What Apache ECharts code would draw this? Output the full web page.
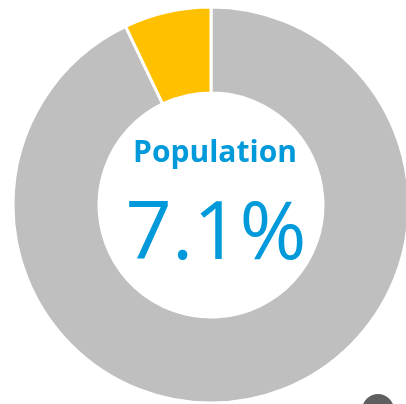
<!DOCTYPE html>
<html>
<head>
<meta charset="utf-8">
<script src="https://cdn.jsdelivr.net/npm/echarts@6/dist/echarts.min.js"></script>
<style>
  html, body { margin: 0; padding: 0; background: #fff; }
  #main { width: 406px; height: 404px; }
</style>
</head>
<body>
<div id="main"></div>
<script>
// 数据
var names = ['Other', 'Population'];
var values = [92.9, 7.1];
var colors = ['#BFBFBF', '#FFC000'];
var labelTitle = 'Population';
var labelValue = '7.1%';

var chart = echarts.init(document.getElementById('main'));
var option = {
    animation: false,
    title: [
        {
            text: labelTitle,
            left: 210,
            top: 133,
            textAlign: 'center',
            textStyle: {
                color: '#0099DA',
                fontFamily: 'Open Sans',
                fontWeight: 'bold',
                fontSize: 30
            }
        },
        {
            text: labelValue,
            left: 211,
            top: 190,
            textAlign: 'center',
            textStyle: {
                color: '#0099DA',
                fontFamily: 'Open Sans',
                fontWeight: 'normal',
                fontSize: 81
            }
        }
    ],
    // 右下角的灰色圆块
    graphic: [{
        type: 'circle',
        shape: { cx: 378, cy: 410, r: 16 },
        style: { fill: '#5F5F5F' }
    }],
    series: [{
        type: 'pie',
        center: [211, 205],
        radius: [112, 198],
        startAngle: 90,
        clockwise: true,
        label: { show: false },
        labelLine: { show: false },
        emphasis: { disabled: true },
        itemStyle: {
            borderColor: '#fff',
            borderWidth: 3
        },
        data: names.map(function (n, i) {
            return { name: n, value: values[i], itemStyle: { color: colors[i] } };
        })
    }]
};
chart.setOption(option);
</script>
</body>
</html>
